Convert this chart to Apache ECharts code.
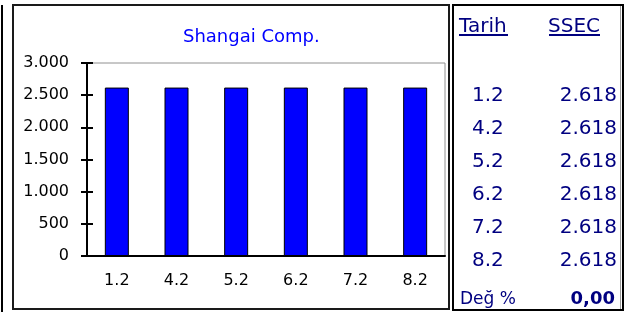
<!DOCTYPE html>
<html>
<head>
<meta charset="utf-8">
<script src="https://cdn.jsdelivr.net/npm/echarts@6.0.0/dist/echarts.min.js"></script>
<style>
  html, body { margin: 0; padding: 0; background: #fff; }
  #chart { width: 634px; height: 312px; }
</style>
</head>
<body>
<div id="chart"></div>
<script>
// veriler
var tarihler = ['1.2', '4.2', '5.2', '6.2', '7.2', '8.2'];
var ssec = [2618, 2618, 2618, 2618, 2618, 2618];
var yTicks = [0, 500, 1000, 1500, 2000, 2500, 3000];
var degisim = '0,00';

var FONT = '"DejaVu Sans", Verdana, sans-serif';
var LACIVERT = '#000080';

// 2618 -> "2.618"
function binlik(v) {
  if (v >= 1000) {
    return Math.floor(v / 1000) + '.' + String(v % 1000).padStart(3, '0');
  }
  return String(v);
}

var myChart = echarts.init(document.getElementById('chart'));

// sag taraftaki tablo
var tablo = [];
var satirY = [96, 129, 162, 195, 228, 261];
tarihler.forEach(function (t, i) {
  tablo.push({
    type: 'text', x: 472, y: satirY[i],
    style: { text: t, font: '20px ' + FONT, fill: LACIVERT, align: 'left', verticalAlign: 'middle' }
  });
  tablo.push({
    type: 'text', x: 617, y: satirY[i],
    style: { text: binlik(ssec[i]), font: '20px ' + FONT, fill: LACIVERT, align: 'right', verticalAlign: 'middle' }
  });
});

var option = {
  animation: false,
  title: {
    text: 'Shangai Comp.',
    left: 178,
    top: 23,
    textStyle: { color: '#0000ff', fontSize: 18, fontWeight: 'normal', fontFamily: FONT }
  },
  grid: {
    left: 87, right: 189, top: 63, bottom: 56,
    show: true, borderColor: '#909090', borderWidth: 1, backgroundColor: '#fff'
  },
  xAxis: [
    {
      type: 'category',
      data: tarihler,
      axisLine: { lineStyle: { color: '#000', width: 2 } },
      axisTick: { length: 7, lineStyle: { color: '#000', width: 2 } },
      axisLabel: { color: '#000', fontSize: 16, fontFamily: FONT, margin: 17 }
    },
    {
      type: 'category',
      data: tarihler,
      position: 'bottom',
      axisLine: { show: false },
      axisTick: { inside: true, length: 7, lineStyle: { color: '#000', width: 2 } },
      axisLabel: { show: false }
    }
  ],
  yAxis: [
    {
      type: 'value',
      min: 0, max: 3000, interval: 500,
      axisLine: { show: true, lineStyle: { color: '#000', width: 2 } },
      axisTick: { show: true, length: 6, lineStyle: { color: '#000', width: 2 } },
      splitLine: { show: false },
      axisLabel: { color: '#000', fontSize: 16, fontFamily: FONT, margin: 18, formatter: binlik }
    },
    {
      type: 'value',
      min: 0, max: 3000, interval: 500,
      position: 'left',
      axisLine: { show: false },
      axisTick: { show: true, inside: true, length: 6, lineStyle: { color: '#000', width: 2 } },
      splitLine: { show: false },
      axisLabel: { show: false }
    }
  ],
  series: [{
    type: 'bar',
    data: ssec,
    barWidth: 24,
    itemStyle: { color: '#0000ff', borderColor: '#000', borderWidth: 1 }
  }],
  graphic: [
    // cerceveler
    { type: 'line', shape: { x1: 2, y1: 5, x2: 2, y2: 312 }, style: { stroke: '#000', lineWidth: 2 } },
    { type: 'rect', shape: { x: 13, y: 5, width: 436, height: 304 }, style: { fill: null, stroke: '#1a1a1a', lineWidth: 2 }, z: -1 },
    { type: 'rect', shape: { x: 453, y: 5, width: 170, height: 305 }, style: { fill: null, stroke: '#000', lineWidth: 2 } },
    { type: 'line', shape: { x1: 620.5, y1: 6, x2: 620.5, y2: 309 }, style: { stroke: '#999', lineWidth: 1 } },
    // basliklar
    { type: 'text', x: 459, y: 27, style: { text: 'Tarih', font: '20px ' + FONT, fill: LACIVERT, align: 'left', verticalAlign: 'middle' } },
    { type: 'line', shape: { x1: 459, y1: 35, x2: 508, y2: 35 }, style: { stroke: LACIVERT, lineWidth: 2 } },
    { type: 'text', x: 548, y: 27, style: { text: 'SSEC', font: '20px ' + FONT, fill: LACIVERT, align: 'left', verticalAlign: 'middle' } },
    { type: 'line', shape: { x1: 549, y1: 35, x2: 600, y2: 35 }, style: { stroke: LACIVERT, lineWidth: 2 } },
    // alt satir
    { type: 'text', x: 460, y: 300, style: { text: 'Değ %', font: '17px ' + FONT, fill: LACIVERT, align: 'left', verticalAlign: 'middle' } },
    { type: 'text', x: 615, y: 299, style: { text: degisim, font: 'bold 18px ' + FONT, fill: LACIVERT, align: 'right', verticalAlign: 'middle' } }
  ].concat(tablo)
};

option && myChart.setOption(option);
</script>
</body>
</html>
